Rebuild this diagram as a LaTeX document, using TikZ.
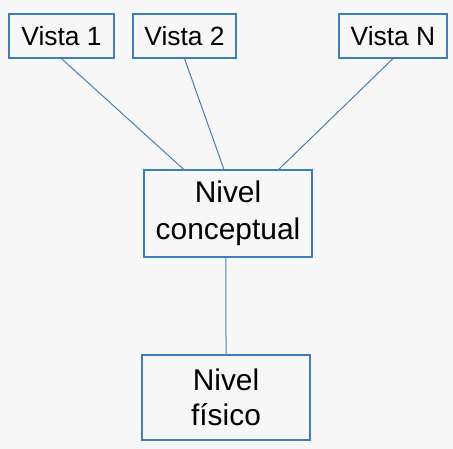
\documentclass[tikz,border=0pt]{standalone}
\usepackage{fontspec}
\setmainfont{Liberation Sans}
\usetikzlibrary{calc}
\definecolor{boxblue}{HTML}{3D7DC2}
\definecolor{lineblue}{HTML}{4A7EBB}
\definecolor{paper}{HTML}{F7F7F7}
\tikzset{
  vistabox/.style={draw=boxblue, line width=1.2bp, inner sep=0pt,
    minimum height=44bp, font=\fontsize{26.5}{30}\selectfont},
  nivelbox/.style={draw=boxblue, line width=1.2bp, inner sep=0pt,
    minimum width=168bp, align=center},
  link/.style={draw=lineblue, line width=1bp}
}

\begin{document}
\begin{tikzpicture}[x=1bp, y=-1bp]
\fill[paper] (0,0) rectangle (453,449);
\useasboundingbox (0,0) rectangle (453,449);
% vistas
\node[vistabox, minimum width=105bp] (v1) at (61.5,36) {Vista 1};
\node[vistabox, minimum width=103bp] (v2) at (184.5,36) {Vista 2};
\node[vistabox, minimum width=108bp] (vn) at (393,36) {Vista N};
% niveles
\node[nivelbox, minimum height=87bp, font=\fontsize{30}{37}\selectfont] (conc) at (228,213.5) {Nivel\\conceptual};
\node[nivelbox, minimum height=85bp, font=\fontsize{30}{35}\selectfont] (fis) at (226,397.5) {Nivel\\físico};
% conexiones
\draw[link] (v1.south) -- ($(conc.north west)!0.238!(conc.north east)$);
\draw[link] (v2.south) -- ($(conc.north west)!0.476!(conc.north east)$);
\draw[link] (vn.south) -- ($(conc.north west)!0.80!(conc.north east)$);
\draw[link] ($(conc.south west)!0.488!(conc.south east)$) -- (fis.north);
\end{tikzpicture}
\end{document}
